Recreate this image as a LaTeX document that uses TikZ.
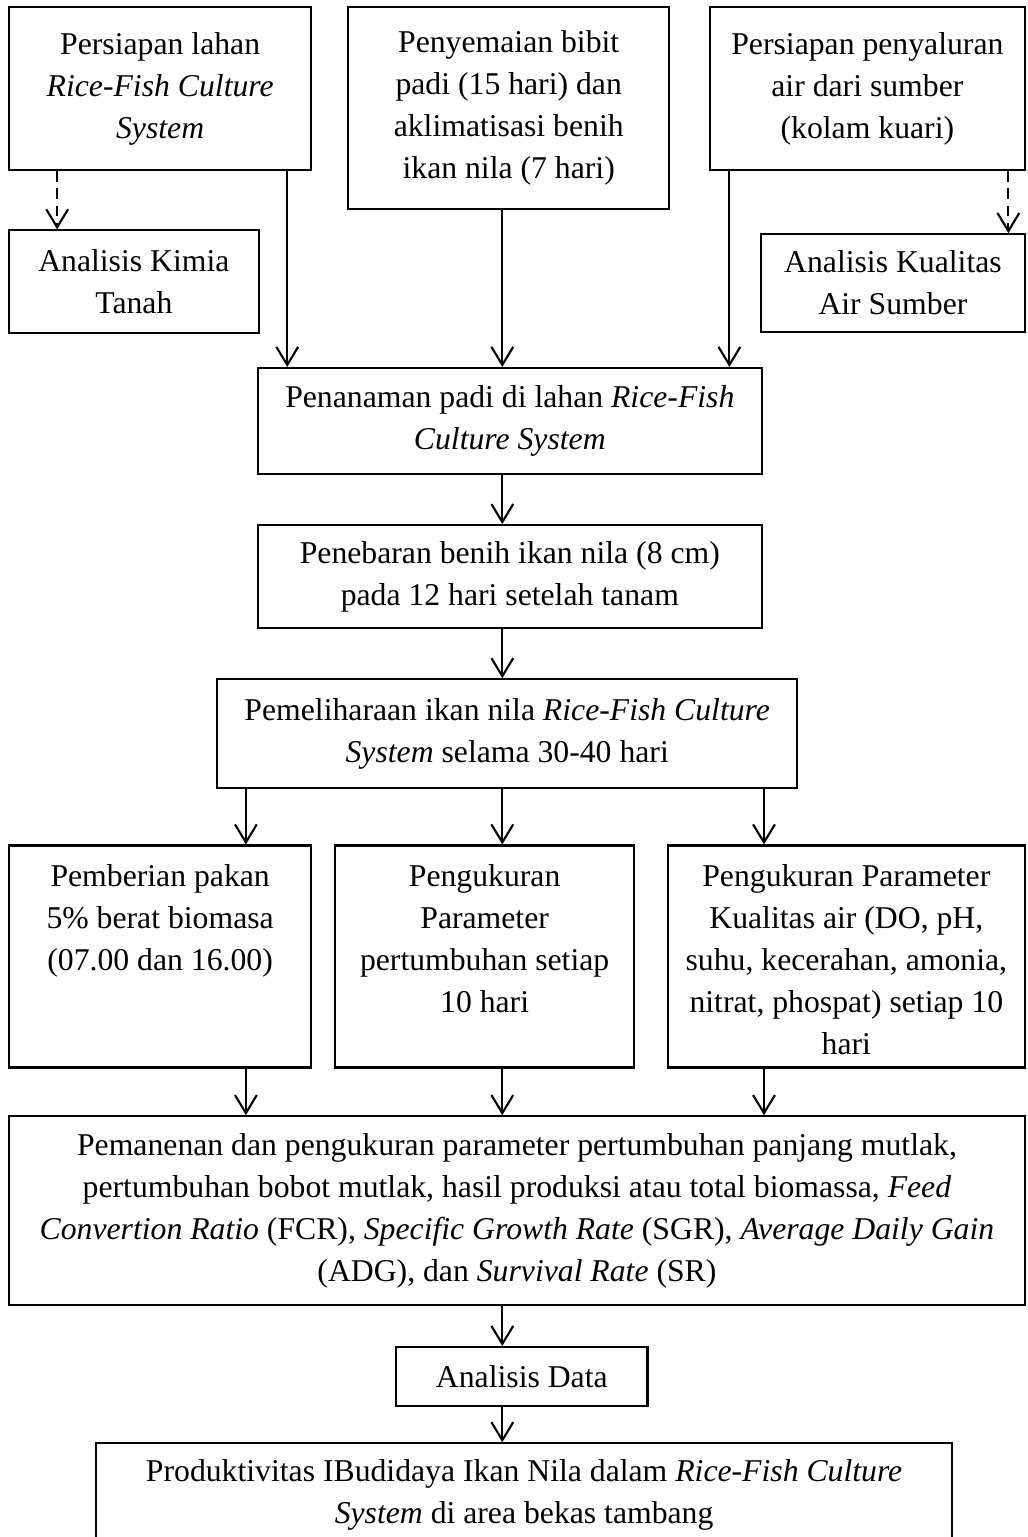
\documentclass[tikz,border=0pt]{standalone}
\usepackage{fontspec}
\setmainfont{Liberation Serif}
\usetikzlibrary{arrows.meta}
\tikzset{box/.style={draw, line width=0.8pt, inner xsep=0pt, align=flush center, anchor=north, font=\fontsize{12}{15.9}\selectfont}}
\tikzset{tall/.style={inner ysep=4.9pt, text height=10.6pt, text depth=63.6pt}}
\tikzset{flow/.style={line width=0.8pt, -{Straight Barb[length=0.24cm, width=0.29cm]}}}
\tikzset{flowdash/.style={flow, dash pattern=on 4pt off 2.5pt}}

\begin{document}
\begin{tikzpicture}
\useasboundingbox (0,0) rectangle (13.66,-20.44);

\node[box, text width=4.02cm, minimum height=2.17cm] (lahan) at (2.13,-0.08) {Persiapan lahan\\ \textit{Rice-Fish Culture}\\ \textit{System}};
\node[box, text width=4.27cm, minimum height=2.69cm] (semai) at (6.765,-0.08) {Penyemaian bibit\\ padi (15 hari) dan\\ aklimatisasi benih\\ ikan nila (7 hari)};
\node[box, text width=4.19cm, minimum height=2.17cm] (air) at (11.535,-0.08) {Persiapan penyaluran\\ air dari sumber\\ (kolam kuari)};
\node[box, text width=3.32cm, minimum height=1.37cm] (tanah) at (1.78,-3.05) {Analisis Kimia\\ Tanah};
\node[box, text width=3.51cm, minimum height=1.30cm] (kualitas) at (11.875,-3.10) {Analisis Kualitas\\ Air Sumber};
\node[box, text width=6.70cm, minimum height=1.41cm] (tanam) at (6.78,-4.88) {Penanaman padi di lahan \textit{Rice-Fish}\\ \textit{Culture System}};
\node[box, text width=6.70cm, minimum height=1.37cm] (tebar) at (6.78,-6.97) {Penebaran benih ikan nila (8 cm)\\ pada 12 hari setelah tanam};
\node[box, text width=7.71cm, minimum height=1.45cm] (pelihara) at (6.745,-9.02) {Pemeliharaan ikan nila \textit{Rice-Fish Culture}\\ \textit{System} selama 30-40 hari};
\node[box, tall, text width=4.02cm] (pakan) at (2.13,-11.23) {Pemberian pakan\\ 5\% berat biomasa\\ (07.00 dan 16.00)};
\node[box, tall, text width=3.97cm] (tumbuh) at (6.445,-11.23) {Pengukuran\\ Parameter\\ pertumbuhan setiap\\ 10 hari};
\node[box, tall, text width=4.75cm] (ukur) at (11.255,-11.23) {Pengukuran Parameter\\ Kualitas air (DO, pH,\\ suhu, kecerahan, amonia,\\ nitrat, phospat) setiap 10\\ hari};
\node[box, text width=13.51cm, minimum height=2.51cm] (panen) at (6.875,-14.83) {Pemanenan dan pengukuran parameter pertumbuhan panjang mutlak,\\ pertumbuhan bobot mutlak, hasil produksi atau total biomassa, \textit{Feed}\\ \textit{Convertion Ratio} (FCR), \textit{Specific Growth Rate} (SGR), \textit{Average Daily Gain}\\ (ADG), dan \textit{Survival Rate} (SR)};
\node[box, text width=3.34cm, minimum height=0.78cm] (data) at (6.94,-17.90) {Analisis Data};
\node[box, text width=11.38cm, minimum height=1.37cm] (hasil) at (6.97,-19.18) {Produktivitas IBudidaya Ikan Nila dalam \textit{Rice-Fish Culture}\\ \textit{System} di area bekas tambang};

\coordinate (c1) at (0.76,0);
\coordinate (c2) at (3.82,0);
\coordinate (c3) at (6.68,0);
\coordinate (c4) at (9.70,0);
\coordinate (c5) at (13.41,0);
\coordinate (c6) at (3.27,0);
\coordinate (c7) at (10.16,0);

\draw[flowdash] (lahan.south -| c1) -- (tanah.north -| c1);
\draw[flowdash] (air.south -| c5) -- (kualitas.north -| c5);
\draw[flow] (lahan.south -| c2) -- (tanam.north -| c2);
\draw[flow] (semai.south -| c3) -- (tanam.north -| c3);
\draw[flow] (air.south -| c4) -- (tanam.north -| c4);
\draw[flow] (tanam.south -| c3) -- (tebar.north -| c3);
\draw[flow] (tebar.south -| c3) -- (pelihara.north -| c3);
\draw[flow] (pelihara.south -| c6) -- (pakan.north -| c6);
\draw[flow] (pelihara.south -| c3) -- (tumbuh.north -| c3);
\draw[flow] (pelihara.south -| c7) -- (ukur.north -| c7);
\draw[flow] (pakan.south -| c6) -- (panen.north -| c6);
\draw[flow] (tumbuh.south -| c3) -- (panen.north -| c3);
\draw[flow] (ukur.south -| c7) -- (panen.north -| c7);
\draw[flow] (panen.south -| c3) -- (data.north -| c3);
\draw[flow] (data.south -| c3) -- (hasil.north -| c3);
\end{tikzpicture}
\end{document}
